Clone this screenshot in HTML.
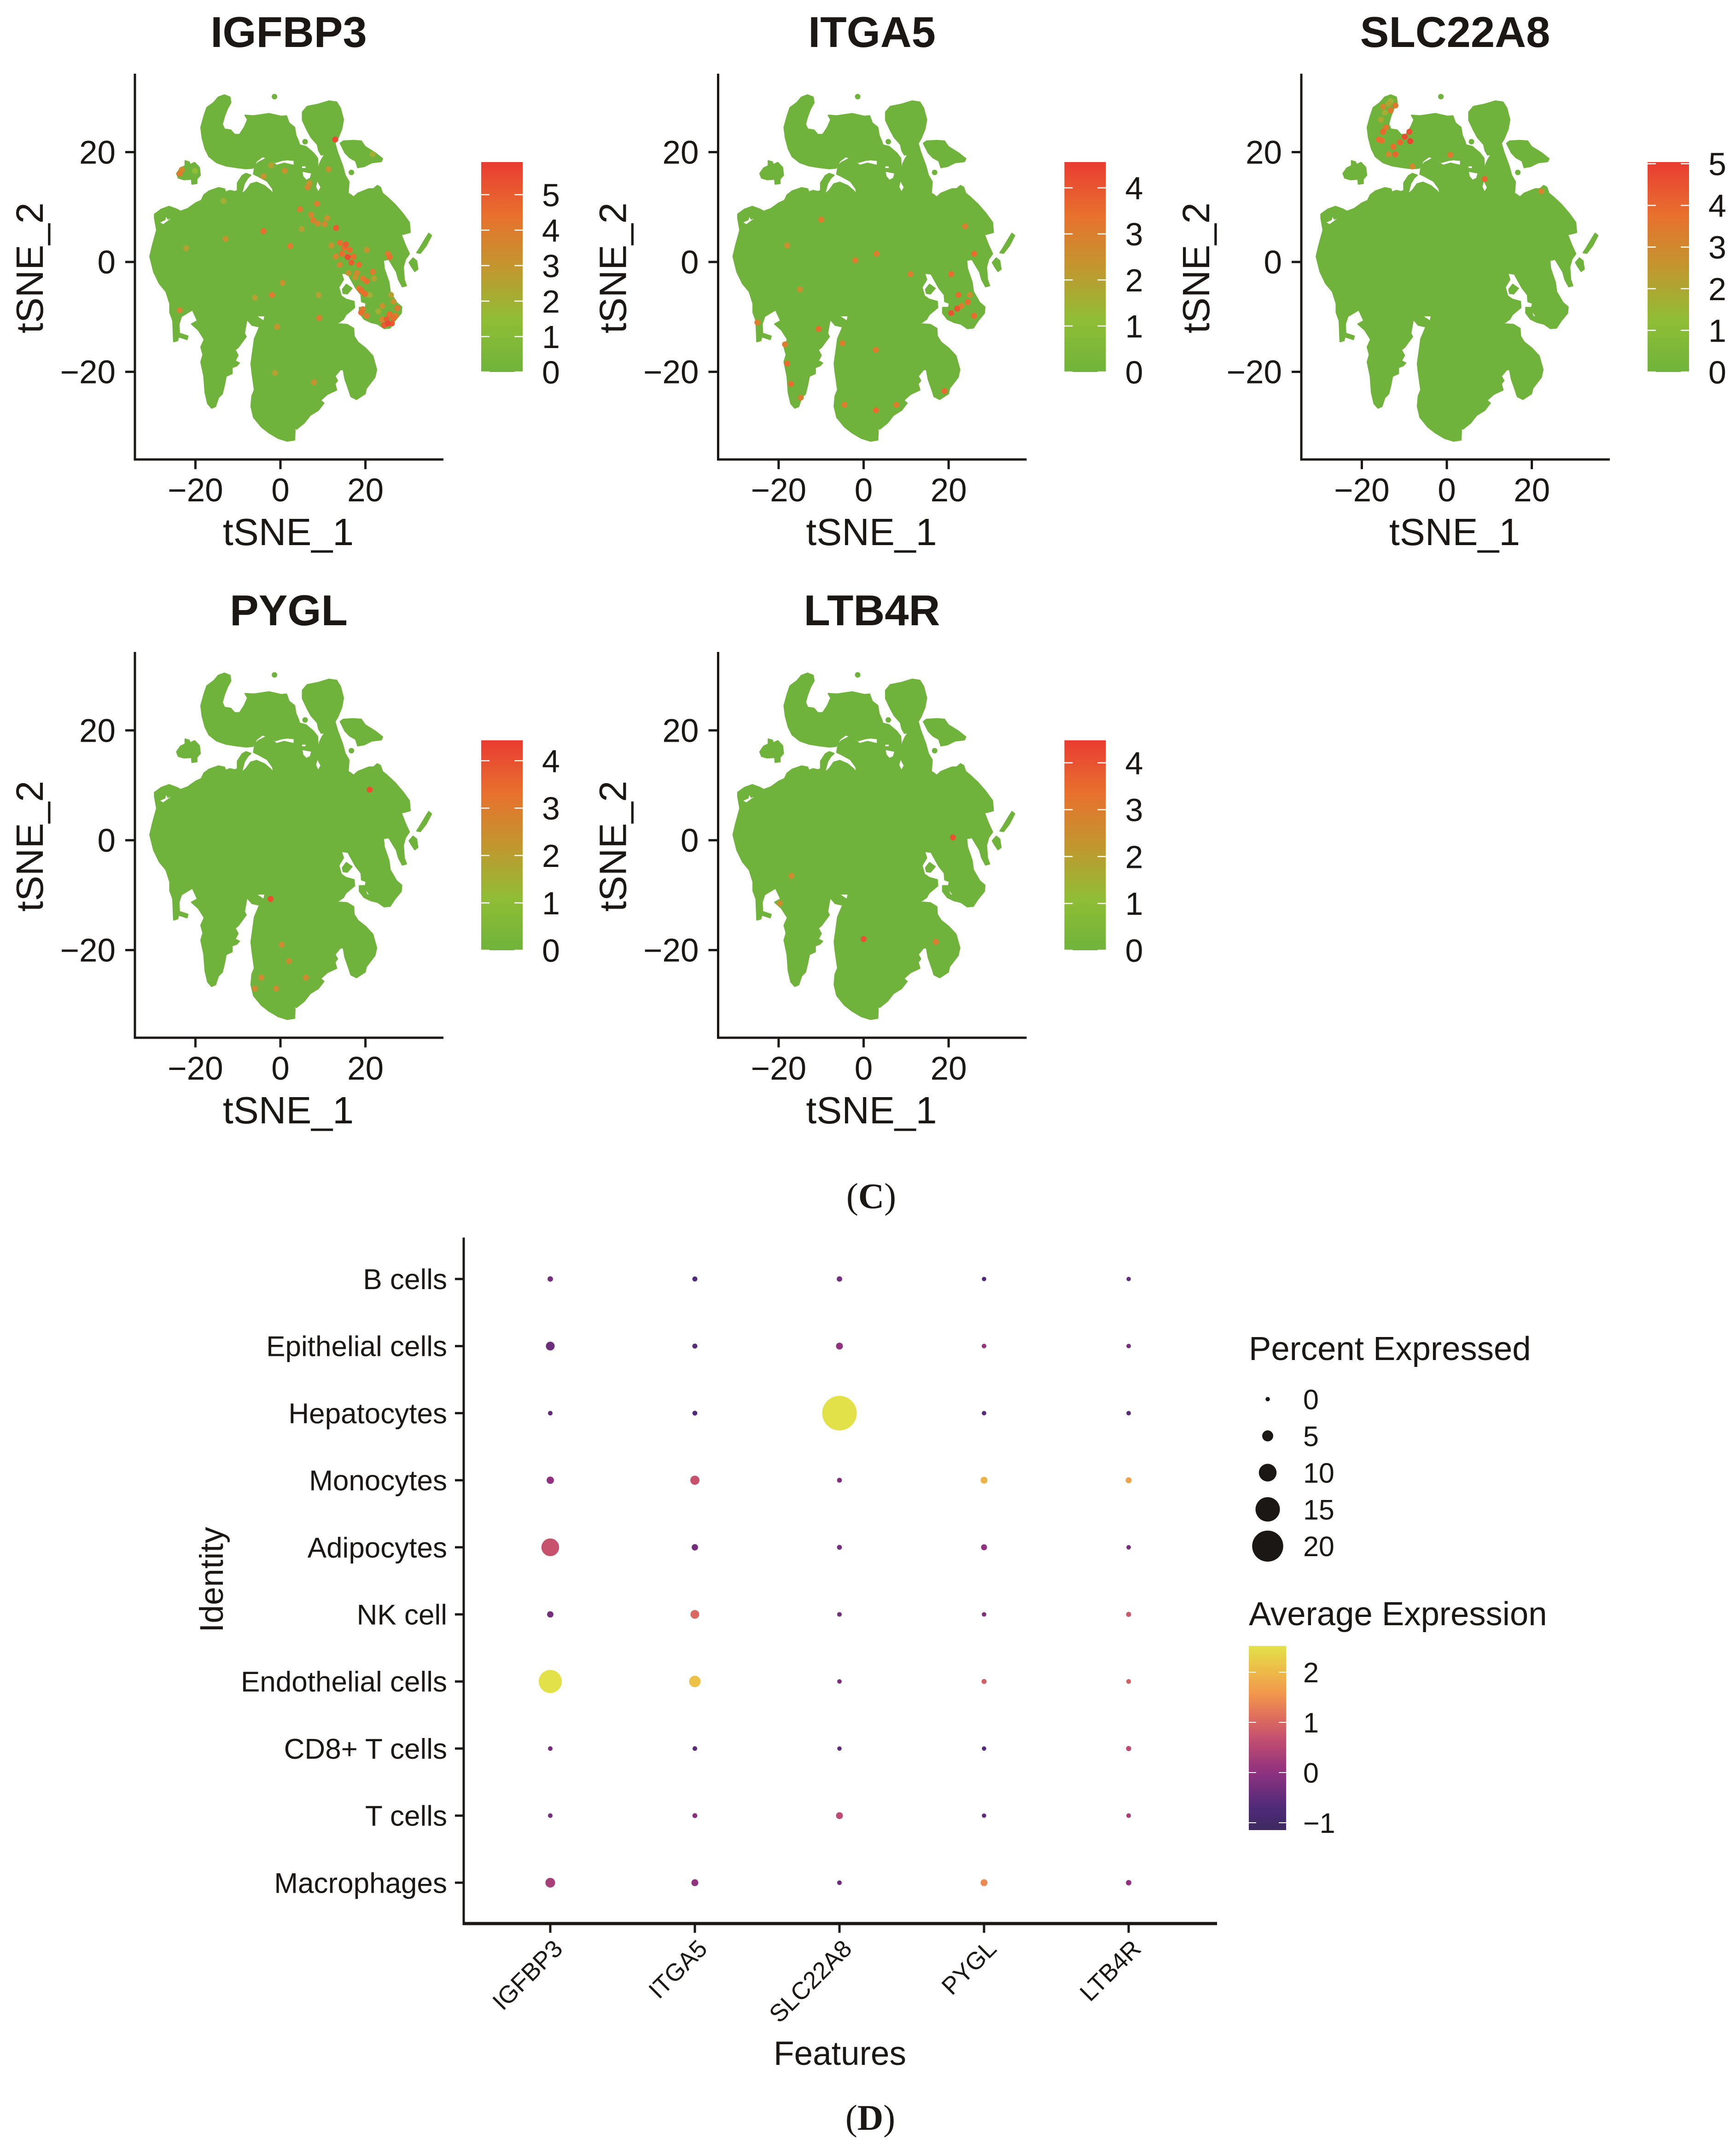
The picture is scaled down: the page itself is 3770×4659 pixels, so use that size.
<!DOCTYPE html>
<html lang="en">
<head>
<meta charset="utf-8">
<title>tSNE feature plots and dot plot</title>
<style>
html,body{margin:0;padding:0;background:#fff;}
svg{display:block;}
text{font-family:"Liberation Sans",sans-serif;fill:#1a1714;}
.serif{font-family:"Liberation Serif",serif;}
</style>
</head>
<body>
<svg id="fig" xmlns="http://www.w3.org/2000/svg" width="3770" height="4659" viewBox="0 0 3770 4659">
  <rect x="0" y="0" width="3770" height="4659" fill="#ffffff"/>
  <text class="serif" x="1892" y="2624" font-size="78" text-anchor="middle">(<tspan font-weight="bold">C</tspan>)</text>
  <text class="serif" x="1890" y="4626" font-size="78" text-anchor="middle">(<tspan font-weight="bold">D</tspan>)</text>
  <text x="1824" y="4485" font-size="73" text-anchor="middle">Features</text>
  <text x="484" y="3431" font-size="71" text-anchor="middle" transform="rotate(-90 484 3431)">Identity</text>
  <text x="2712" y="2954" font-size="72.5">Percent Expressed</text>
  <text x="2712" y="3530" font-size="72.5">Average Expression</text>
</svg>
<script>
// ---------- tSNE data (tSNE_1, tSNE_2 units) ----------
const genes = ['IGFBP3', 'ITGA5', 'SLC22A8', 'PYGL', 'LTB4R'];
const colorMax = [5.92, 4.56, 5.04, 4.43, 4.48];
const colorTicks = [[0,1,2,3,4,5],[0,1,2,3,4],[0,1,2,3,4,5],[0,1,2,3,4],[0,1,2,3,4]];
const tsneTicks = [-20, 0, 20];

const clusterMain = [[-29.6,8.7],[-28,9.6],[-26.2,10.1],[-24.4,9.6],[-23.5,9.2],[-21.8,9.7],[-20,10.7],[-18.6,11.2],[-18,12.2],[-16.8,12.9],[-14.6,13.5],[-13.2,13.3],[-12.8,12.5],[-13.5,12],[-12.6,12.8],[-11.9,13],[-10.7,12.8],[-10.1,13],[-10.1,14.4],[-9,15.7],[-8.1,16.1],[-7,15.8],[-7.7,15.3],[-8.5,14.3],[-9.2,12.3],[-8.1,13],[-7,14.2],[-5.6,14.5],[-3.8,13.9],[-2.4,13],[-1.6,12.3],[-1.8,13.3],[-3.1,14.7],[-5.2,15.6],[-6.3,16],[-6,17.5],[-5.2,18.1],[-3.2,18.9],[-4.2,19.2],[-5.6,18.4],[-6.5,17.1],[-8.1,17],[-10.3,17.2],[-12.8,17.5],[-15,18.1],[-16.8,19.2],[-17.7,20.6],[-18.4,22.6],[-18.7,24.5],[-18,26.5],[-17.3,28.1],[-15.7,29],[-14.6,30],[-13.2,30.4],[-11.9,30],[-11.7,29],[-12.5,27.9],[-13.2,26.5],[-13.7,25.1],[-13.2,24.2],[-11.7,24],[-10.8,23.2],[-9.6,23.2],[-8.5,24.5],[-7.7,25.9],[-8.3,26.7],[-6.3,26.6],[-2.7,27],[0.2,26.5],[1.4,26.6],[2,25.3],[3.3,24.5],[3.6,23.1],[4.2,22],[4.5,21.3],[6,21],[7.8,19.8],[8.7,18.9],[8.8,17.5],[9,16.5],[9.2,17.8],[9.8,18.8],[10.5,19.6],[9.6,19.5],[9,20.3],[8.7,21.4],[7.2,22.7],[6.3,24],[5.2,25.8],[5.2,27.3],[6.3,28.3],[8.9,28.7],[11.4,29.3],[13.2,29.1],[14.1,28],[14.8,25.9],[14.4,24.2],[13.5,22.5],[12.8,21.6],[13.4,20],[14.6,17.5],[15.2,15.8],[16.1,14.6],[15.9,12.5],[16.4,12.3],[17.2,11.8],[18.2,12.5],[20.8,13.3],[21.9,13.3],[22.8,13.9],[23.5,13.6],[24,12.5],[25.1,11.8],[26.9,10.5],[28.7,8.9],[30.3,7.2],[30.5,5.4],[29.1,5.1],[28.4,5],[29.4,3],[30.3,1.5],[29.4,0.5],[28.9,-0.9],[29.1,-3.2],[29.6,-4.3],[28.7,-4.5],[27.8,-3.2],[27.3,-1.8],[26.2,-0.4],[25.5,0.5],[24.2,0.3],[24.4,-1.2],[25.5,-3.7],[25.8,-5.4],[27.3,-7.4],[28.5,-8.2],[28.4,-9.3],[26.9,-10.7],[25.8,-12],[24.4,-12.1],[22.9,-11.3],[21.3,-11],[19.7,-10.4],[18.6,-9.3],[18.6,-8.3],[20,-8.3],[20.2,-7.5],[19.1,-7.2],[19,-6],[17.7,-4.7],[16.4,-2.9],[15.9,-2.2],[14.3,-2],[14.8,-3.2],[13.7,-4.6],[14.3,-6.2],[15.4,-6.8],[17.3,-7.2],[17.4,-8.3],[15.4,-9.6],[14.8,-10.4],[12.8,-11.5],[13.9,-11.3],[15.7,-11.4],[17.2,-12.1],[17.3,-13.5],[18.2,-14.6],[20,-15.7],[21.7,-17.1],[22.6,-19.6],[22.2,-21],[20.2,-23],[19.9,-24],[17.9,-25],[16.6,-24.5],[16.1,-23.3],[15.2,-21.3],[14.8,-19.6],[14.1,-19.6],[12.8,-20.8],[13.4,-21.6],[12.8,-22.2],[13.2,-23.3],[12.1,-23.7],[11,-24.1],[9.4,-25.2],[10.2,-25.7],[8.9,-27],[7,-27.9],[5.6,-29.3],[3.8,-30.4],[3.1,-30.3],[3.4,-30.7],[3.3,-32.4],[1.6,-32.6],[-0.5,-32.1],[-2.7,-31.1],[-4.5,-30],[-6.3,-28.3],[-6.9,-26.3],[-6.7,-24.4],[-6.1,-23.3],[-6.7,-20],[-6.9,-18.5],[-6.5,-16.3],[-6.1,-14],[-4.9,-11.8],[-6.7,-11.5],[-7.9,-10.4],[-8.5,-13],[-8.1,-13.6],[-9.9,-15.5],[-10.7,-16],[-10,-17],[-10.7,-18],[-9.7,-18.4],[-10.3,-18.9],[-11.4,-19.2],[-11.4,-20.3],[-12.8,-20.8],[-13.2,-22.4],[-13.7,-24],[-14.6,-24.7],[-15.3,-26.3],[-16.2,-26.6],[-17.1,-25.8],[-17.7,-23.8],[-18,-20.8],[-18.7,-18.2],[-18.2,-16.9],[-18.7,-15.5],[-17.9,-14.1],[-19.3,-12.4],[-20.9,-11.3],[-19.5,-10.7],[-20.7,-8.7],[-23.3,-9.9],[-23.9,-11.3],[-23.8,-13],[-21.8,-13.5],[-22,-14.1],[-24,-13.6],[-24.2,-14.3],[-25.1,-14.5],[-25.3,-10.7],[-26,-9.2],[-26,-7.6],[-26.9,-5.4],[-28.5,-3.9],[-29.8,-1.8],[-30.7,1],[-30.1,3],[-29.1,5.8],[-29.6,8]];
const clusterLeftSmall = [[-24.4,16.1],[-23.5,17.1],[-22.4,17.5],[-22.4,18.4],[-21.5,18.2],[-21.3,17.7],[-20.2,18.1],[-19.1,17.2],[-18.9,15.8],[-19.7,15.1],[-19.7,14.3],[-20.8,14.2],[-20.9,15.1],[-22.7,15],[-24,15.3]];
const clusterRightLobe = [[14.1,21.6],[14.8,22],[17.2,22.1],[19,22],[19.9,21],[22.2,19.9],[24,18.8],[23.7,18.3],[21.5,18.1],[19.7,17.4],[18.2,17.2],[17.7,18.4],[16.3,19],[15.2,19.9]];
const clusterRod = [[34.9,5.2],[35.5,4.8],[34.3,3],[32.9,1.6],[32.1,1.7],[32.7,2.4],[34.1,4.2]];
const clusterIslet = [[30.3,-0.1],[31.2,0.7],[32,0.2],[32.3,-1.3],[31.6,-1.7],[30.9,-0.9]];
const clusterIsland = [[14.6,-5],[15.5,-4.1],[16.8,-4.8],[15.7,-5.8],[14.8,-5.7]];
const clusters = [clusterMain, clusterLeftSmall, clusterRightLobe, clusterRod, clusterIslet, clusterIsland];

const gapLeftSlit = [[-28.3,7.2],[-27.1,7.6],[-26.9,8.2],[-26.5,7.7],[-25.8,7.9],[-27.6,6.9]];
const gapHookSlit = [[-2,18.4],[-1.3,18],[0.5,18.4],[1.6,18.5],[3.1,18.4],[3.1,17.7],[0.9,18.1],[-0.9,17.7]];
const gapPocket = [[5.2,16.4],[7.2,16.1],[6.9,15.3],[6.1,15],[5.4,15.6]];
const gapStalkSlit = [[8.7,14.6],[9.4,13.6],[8.9,12.9],[8.4,13.7]];
const gapTiny = [[5.1,17.4],[5.9,17.4],[5.9,17.1],[5.1,17.1]];
const gapLower = [[-5.4,-9.9],[-3.8,-9.9],[-4,-10.6]];
const gapRight = [[20.2,-9.2],[20.8,-9.9],[20.4,-9.8]];
const gaps = [gapLeftSlit, gapHookSlit, gapPocket, gapStalkSlit, gapTiny, gapLower, gapRight];

const strayCells = [[-1.4,30.1],[5.8,21.9],[16.7,16.3]];

const cellsIGFBP3 = [[12.9,22.3,5.5],[-4,5.6,4.5],[2.3,2.9,4],[-23.7,16.1,4],[-23.2,16.8,3.5],[-20.1,16.6,1.5],[6.4,13.6,3.5],[6.8,14.3,3],[1,16.6,3],[-2.2,17.6,2.5],[-4,15.6,3],[7.7,7.6,4],[7.2,8.6,3.5],[8.8,7,3.5],[10.4,6.9,3.5],[13.1,6.2,5],[8.6,10.6,4],[4.6,9.6,4],[11.3,16.9,3],[14,3.5,4.5],[15.4,3.2,5],[14.5,1.5,4.5],[15.8,0.9,5.5],[16.7,-0.1,5],[18.5,-0.5,4.5],[16.3,2.2,4.5],[15,2.6,4.5],[17.2,1,4.5],[20.3,2.2,3],[14,-0.5,3.5],[17.6,-2.8,3],[20.3,-3.5,4.5],[19.4,-3,4],[19,-5.2,4.5],[19.9,-5.8,4.5],[18.5,-4.8,4],[21.7,-1.8,4],[25.3,1.5,4],[25.7,0.9,4.5],[25.7,-9.5,4.5],[25.3,-11.2,5.5],[26.2,-11.2,5],[25,-10.4,5],[26.6,-10.2,4.5],[27.1,-9.8,4],[27.5,-8.4,4],[26.6,-7.2,3],[19,-9.2,4.5],[20.3,-9.8,4],[19.4,-8.6,4],[23.9,-10.5,3.5],[24.4,-11.5,5],[9.1,-10.2,4],[-0.8,-11.8,3],[-2,-6,4],[-23.7,-8.8,3.5],[-12.9,4.2,3],[-22.2,2.5,2.5],[-1.3,-20.2,2.5],[7.9,-21.9,3],[-13.4,11.1,2],[21.7,19.6,2],[0.5,-3.8,3],[-6,-6.5,2.5],[9,-6,2.5],[12,3,3],[11,8,3],[5,6,2.5],[21,-6,2],[23,-9,2],[22,-3,2.5],[16,-2,3],[24,-8,3],[26,-6,2.5],[13,1,3.5],[18,-2,3.5]];
const cellsITGA5 = [[20.6,-9.3,4],[22,-8.5,4],[24.5,-7.3,3.5],[26,-9.8,3.5],[22.3,-6,3.5],[23,-8,3],[25,-6,2.5],[26,1.5,3.5],[23.9,6.5,3],[20.6,-2.2,3.5],[-18,-18.5,3.5],[-17.1,-22.2,3.5],[-14.8,-24.7,3],[-18.5,-15,3],[-25,-11,3],[-10.6,-12.2,3.5],[-10,7.7,3],[-2,0.3,3],[3,1.5,3],[11,-2.2,3],[-4.5,-26,3],[2.9,-27,3.5],[7.7,-26,3],[19,-23.5,3.5],[2.9,-16,3],[-5,-14.8,3],[-15,-5,2.5],[-18,3,2.5]];
const cellsSLC22A8 = [[-15,23.7,4],[-16,22.3,3.8],[-15.3,22.1,3.8],[-11,21.8,4],[-12.6,21,3.8],[-8.6,22,4.8],[-8.8,23.7,4.5],[-9.9,22.8,4.6],[-12.1,19.6,4],[-13.7,19.6,3],[-8.1,17.4,3],[0.8,19.5,3.5],[8.9,15.1,4],[22.2,12.9,3],[-13.2,27.6,3.5],[-15,28.3,3],[-12.1,28.5,3.5],[-14.3,24.5,3.5],[-15.5,25.9,2],[-14.6,27.2,1.7],[-13.2,29.3,1.5],[-13.7,28.8,2]];
const cellsPYGL = [[21,9.2,4],[-2.3,-10.7,4],[-4.5,-25,2.5],[-1,-27,2.5],[2,-22,2.5],[-6,-27,2.5],[0.3,-19,2.5],[6,-25,2.5]];
const cellsLTB4R = [[0,-18,4],[21,0.5,4],[17,-18.5,3],[-17,-6.5,2.5],[-19.7,-11.5,2.5]];
const geneCells = [cellsIGFBP3, cellsITGA5, cellsSLC22A8, cellsPYGL, cellsLTB4R];

// ---------- dot plot data ----------
const dotIdentities = ['B cells','Epithelial cells','Hepatocytes','Monocytes','Adipocytes','NK cell','Endothelial cells','CD8+ T cells','T cells','Macrophages'];
const dotFeatures = ['IGFBP3','ITGA5','SLC22A8','PYGL','LTB4R'];
const percentExpressed = [
  [0.8,0.5,0.8,0,0],
  [3.3,0.5,1.9,0.2,0.1],
  [0.2,0.4,22.6,0.1,0.1],
  [2.2,3.6,0.4,1.9,1.2],
  [10,1.5,0.4,1.2,0.1],
  [1.5,3.3,0.2,0.1,0.5],
  [14,5.3,0.1,0.5,0.3],
  [0.2,0.2,0,0,0.6],
  [0.2,0.4,1.9,0,0.2],
  [4,1.9,0.2,1.9,0.8]
];
const averageExpression = [
  [-0.3,-0.7,-0.3,-0.8,-0.5],
  [-0.4,-0.6,0,0.1,-0.3],
  [-0.5,-0.7,2.5,-0.6,-0.6],
  [0,0.7,-0.2,1.9,1.7],
  [0.7,-0.3,-0.3,0,-0.3],
  [-0.3,1,-0.3,-0.2,0.8],
  [2.5,2.1,-0.2,0.9,0.9],
  [-0.3,-0.6,-0.6,-0.7,0.6],
  [-0.3,-0.1,0.6,-0.5,0.3],
  [0.3,0,-0.4,1.4,0]
];
const sizeLegendValues = [0,5,10,15,20];
const colorLegendValues = [2,1,0,-1];

// ---------- helpers ----------
const NS = 'http://www.w3.org/2000/svg';
const svg = document.getElementById('fig');
const INK = '#1a1714';
const CELL_GREEN = '#70b33c';
const expressionRamp = ['#70b33b','#90bd35','#c3962f','#e8702e','#e93b32'];
const plasmaRamp = ['#3d2a5f','#4f2a78','#91327f','#c4506f','#e0705c','#f2974d','#ecbf48','#e2e24a'];
const plasmaPos = [0,0.12,0.32,0.5,0.62,0.74,0.88,1];

function make(tag, attrs, parent){
  const el = document.createElementNS(NS, tag);
  for (const k in attrs) el.setAttribute(k, attrs[k]);
  (parent || svg).appendChild(el);
  return el;
}
function hex(c){ return [parseInt(c.slice(1,3),16),parseInt(c.slice(3,5),16),parseInt(c.slice(5,7),16)]; }
function mix(a,b,t){
  const A = hex(a), B = hex(b);
  return 'rgb(' + A.map((v,i)=>Math.round(v+(B[i]-v)*t)).join(',') + ')';
}
function expressionColor(f){
  f = Math.max(0,Math.min(1,f));
  const s = f*(expressionRamp.length-1), i = Math.min(Math.floor(s),expressionRamp.length-2);
  return mix(expressionRamp[i],expressionRamp[i+1],s-i);
}
const AVG_MIN = -1.16, AVG_MAX = 2.51;
function plasmaColor(v){
  const f = Math.max(0,Math.min(1,(v-AVG_MIN)/(AVG_MAX-AVG_MIN)));
  let i = 0;
  while (i < plasmaPos.length-2 && f > plasmaPos[i+1]) i++;
  return mix(plasmaRamp[i],plasmaRamp[i+1],(f-plasmaPos[i])/(plasmaPos[i+1]-plasmaPos[i]));
}
function line(x1,y1,x2,y2,w,name,parent,color){
  const el = make('line',{x1:x1,y1:y1,x2:x2,y2:y2,stroke:color||INK,'stroke-width':w},parent);
  
  
  return el;
}
function label(str,x,y,size,anchor,name,parent){
  const el = make('text',{x:x,y:y,'font-size':size,'text-anchor':anchor},parent);
  el.textContent = str;
  
  
  return el;
}

// ---------- gradients ----------
const defs = make('defs',{});
const gradE = make('linearGradient',{id:'gradExpression',x1:0,y1:1,x2:0,y2:0},defs);
expressionRamp.forEach((c,i)=>make('stop',{offset:i/(expressionRamp.length-1),'stop-color':c},gradE));
const gradP = make('linearGradient',{id:'gradPlasma',x1:0,y1:1,x2:0,y2:0},defs);
plasmaRamp.forEach((c,i)=>make('stop',{offset:plasmaPos[i],'stop-color':c},gradP));

// ---------- tSNE panels ----------
const PX_PER_T1 = 9.23, PX_PER_T2 = 11.93;
genes.forEach(function(gene,idx){
  const col = idx % 3, row = Math.floor(idx/3);
  const axisX = 293 + col*1266.5;
  const zeroY = 569 + row*1256;
  const zeroX = axisX + 316;
  const sx = t => zeroX + t*PX_PER_T1;
  const sy = t => zeroY - t*PX_PER_T2;
  const pathOf = poly => poly.map((p,i)=>(i?'L':'M')+sx(p[0]).toFixed(1)+' '+sy(p[1]).toFixed(1)).join('')+'Z';
  const axisBottom = zeroY + 429, axisTop = zeroY - 409, axisRight = axisX + 670;

  const g = make('g',{});
  
  

  label(gene, axisX+334, zeroY-467, 94, 'middle', 'panel-title', g).setAttribute('font-weight','bold');

  clusters.forEach(function(poly){
    const shape = make('path',{d:pathOf(poly),fill:CELL_GREEN,stroke:CELL_GREEN,'stroke-width':3,'stroke-linejoin':'round'},g);
    
    
  });
  gaps.forEach(function(poly){
    const gap = make('path',{d:pathOf(poly),fill:'#ffffff'},g);
    
    
  });
  strayCells.forEach(function(p){
    const c = make('circle',{cx:sx(p[0]),cy:sy(p[1]),r:6,fill:CELL_GREEN},g);
    
    
  });
  geneCells[idx].slice().sort((a,b)=>a[2]-b[2]).forEach(function(p){
    const c = make('circle',{cx:sx(p[0]),cy:sy(p[1]),r:6.5,fill:expressionColor(p[2]/colorMax[idx])},g);
    
    
  });

  line(axisX,axisTop,axisX,axisBottom+2.5,5,'y-axis-line',g);
  line(axisX-2.5,axisBottom,axisRight,axisBottom,5,'x-axis-line',g);
  tsneTicks.forEach(function(t){
    const shown = String(t).replace('-','\u2212');
    line(sx(t),axisBottom,sx(t),axisBottom+21,5,'x-tick',g);
    label(shown,sx(t),axisBottom+91,71,'middle','x-tick-label',g);
    line(axisX-21,sy(t),axisX,sy(t),5,'y-tick',g);
    label(shown,axisX-42,sy(t)+25,71,'end','y-tick-label',g);
  });
  label('tSNE_1',axisX+333,axisBottom+186,82.5,'middle','x-axis-title',g);
  const yTitle = label('tSNE_2',axisX-200,zeroY+13,82.5,'middle','y-axis-title',g);
  yTitle.setAttribute('transform','rotate(-90 '+(axisX-200)+' '+(zeroY+13)+')');

  const barX = axisX+752, barW = 90, barBottom = zeroY+239, barH = 456;
  const bar = make('rect',{x:barX,y:barBottom-barH,width:barW,height:barH,fill:'url(#gradExpression)'},g);
  
  
  colorTicks[idx].forEach(function(v){
    const y = barBottom - v/colorMax[idx]*barH;
    line(barX,y,barX+18,y,2.5,'color-bar-tick',g,'#ffffff');
    line(barX+barW-18,y,barX+barW,y,2.5,'color-bar-tick',g,'#ffffff');
    label(String(v),barX+barW+42,y+25,70,'start','color-bar-label',g);
  });
});

// ---------- dot plot ----------
const DOT_AXIS_X = 1007, DOT_AXIS_Y = 4178;
const fx = i => 1195 + i*314;
const fy = i => 2778 + i*145.7;
const dotRadius = p => (9.5 + 2.9*p)/2;
const dotGroup = make('g',{});


line(DOT_AXIS_X,2688,DOT_AXIS_X,DOT_AXIS_Y+3,5,'dot-plot-y-axis-line',dotGroup);
line(DOT_AXIS_X-2.5,DOT_AXIS_Y,2643,DOT_AXIS_Y,7,'dot-plot-x-axis-line',dotGroup);
dotIdentities.forEach(function(name,r){
  line(DOT_AXIS_X-19,fy(r),DOT_AXIS_X,fy(r),5,'identity-tick',dotGroup);
  label(name,971,fy(r)+22,62,'end','identity-label',dotGroup);
  dotFeatures.forEach(function(feat,c){
    const dot = make('circle',{cx:fx(c),cy:fy(r),r:dotRadius(percentExpressed[r][c]),fill:plasmaColor(averageExpression[r][c])},dotGroup);
    
    
  });
});
dotFeatures.forEach(function(feat,c){
  line(fx(c),DOT_AXIS_Y,fx(c),DOT_AXIS_Y+20,5,'feature-tick',dotGroup);
  const ax = fx(c)+30, ay = DOT_AXIS_Y+58;
  const t = label(feat,ax,ay,53,'end','feature-label',dotGroup);
  t.setAttribute('transform','rotate(-45 '+ax+' '+ay+')');
});

// ---------- legends ----------
sizeLegendValues.forEach(function(v,i){
  const y = 3039 + i*79.8;
  const dot = make('circle',{cx:2753,cy:y,r:dotRadius(v),fill:INK},dotGroup);
  
  
  label(String(v),2830,y+22,61,'start','size-legend-label',dotGroup);
});
const plasmaBar = make('rect',{x:2712,y:3575,width:81,height:400,fill:'url(#gradPlasma)'},dotGroup);


colorLegendValues.forEach(function(v){
  const y = 3850 - v*109;
  line(2712,y,2728,y,2,'average-expression-tick',dotGroup,'#ffffff');
  line(2777,y,2793,y,2,'average-expression-tick',dotGroup,'#ffffff');
  label(String(v).replace('-','\u2212'),2830,y+22,61,'start','average-expression-label',dotGroup);
});
</script>
</body>
</html>
